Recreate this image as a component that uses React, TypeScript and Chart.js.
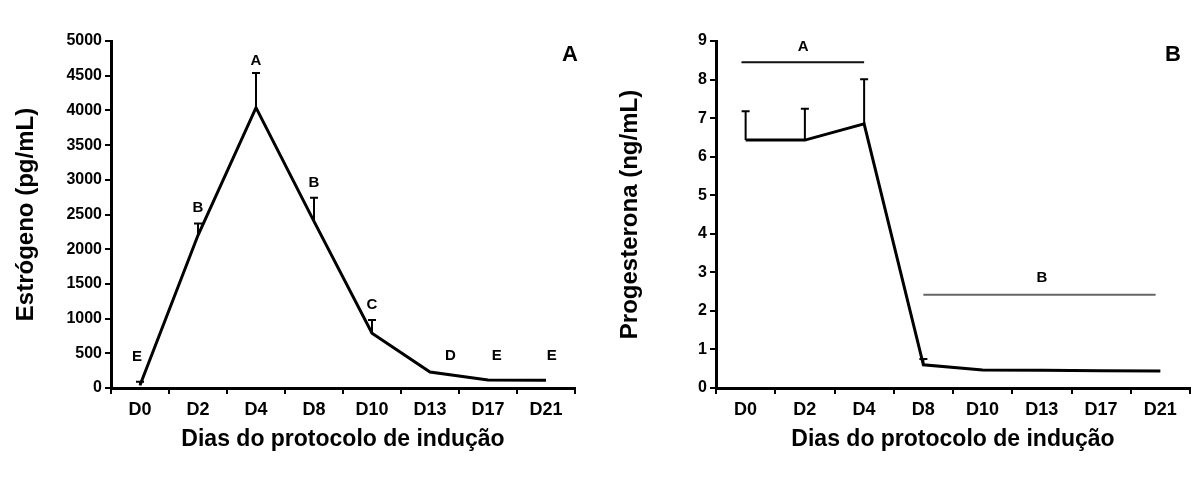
import React, { useEffect, useRef } from 'react';
import { Chart, registerables } from 'chart.js';

Chart.register(...registerables);

// ---------- data ----------
const days = ['D0', 'D2', 'D4', 'D8', 'D10', 'D13', 'D17', 'D21'];

const estrogenMean = [40, 2200, 4040, 2400, 790, 230, 115, 110];
const estrogenSem = [50, 170, 500, 340, 190, 0, 0, 0];
const estrogenLetters = ['E', 'B', 'A', 'B', 'C', 'D', 'E', 'E'];
const estrogenLetterLevel = [450, 2600, 4710, 2950, 1200, 460, 460, 460];
const estrogenLetterPos = [-0.05, 1, 2, 3, 4, 5.35, 6.15, 7.1];

const progesteroneMean = [6.43, 6.43, 6.85, 0.6, 0.47, 0.46, 0.45, 0.44];
const progesteroneSem = [0.75, 0.81, 1.16, 0.15, 0, 0, 0, 0];
const progGroupLabels = ['A', 'B'];
const progGroupStart = [-0.07, 3];
const progGroupEnd = [2, 6.92];
const progGroupLevel = [8.45, 2.42];
const progGroupColor = ['#111', '#666'];
const progGroupLabelLevel = [8.84, 2.85];
const progGroupLabelPos = [0.97, 5];

const FONT = '"Liberation Sans", Arial, Helvetica, sans-serif';

type Overlay = {
  mean: number[];
  sem: number[];
  letters?: string[];
  letterLevel?: number[];
  letterPos?: number[];
  groups?: {
    labels: string[];
    start: number[];
    end: number[];
    level: number[];
    color: string[];
    labelLevel: number[];
    labelPos: number[];
  };
  panel: string;
  panelX: number;
  panelY: number;
};

function overlayPlugin(o: Overlay) {
  return {
    id: 'overlay',
    afterDatasetsDraw(chart: any) {
      const ctx = chart.ctx as CanvasRenderingContext2D;
      const xs = chart.scales.x;
      const ys = chart.scales.y;
      ctx.save();
      // error bars
      ctx.strokeStyle = '#000';
      ctx.lineWidth = 2;
      o.mean.forEach((m, i) => {
        const e = o.sem[i];
        if (!e) return;
        const px = xs.getPixelForValue(i);
        const y0 = ys.getPixelForValue(m);
        const y1 = ys.getPixelForValue(m + e);
        ctx.beginPath();
        ctx.moveTo(px, y0);
        ctx.lineTo(px, y1);
        ctx.moveTo(px - 4, y1);
        ctx.lineTo(px + 4, y1);
        ctx.stroke();
      });
      ctx.fillStyle = '#000';
      ctx.textAlign = 'center';
      ctx.textBaseline = 'middle';
      ctx.font = `bold 15px ${FONT}`;
      if (o.letters && o.letterLevel && o.letterPos) {
        o.letters.forEach((t, i) => {
          ctx.fillText(t, xs.getPixelForValue(o.letterPos![i]), ys.getPixelForValue(o.letterLevel![i]));
        });
      }
      if (o.groups) {
        const g = o.groups;
        g.labels.forEach((t, i) => {
          const yy = ys.getPixelForValue(g.level[i]);
          ctx.strokeStyle = g.color[i];
          ctx.lineWidth = 2;
          ctx.beginPath();
          ctx.moveTo(xs.getPixelForValue(g.start[i]), yy);
          ctx.lineTo(xs.getPixelForValue(g.end[i]), yy);
          ctx.stroke();
          ctx.fillStyle = '#000';
          ctx.fillText(t, xs.getPixelForValue(g.labelPos[i]), ys.getPixelForValue(g.labelLevel[i]));
        });
      }
      ctx.font = `bold 22px ${FONT}`;
      ctx.fillText(o.panel, o.panelX, o.panelY);
      ctx.restore();
    },
  };
}

function makeConfig(
  data: number[],
  yTitle: string,
  yMax: number,
  yStep: number,
  yWidth: number,
  rightPad: number,
  yTitlePad: number,
  plugin: any
): any {
  return {
    type: 'line',
    data: {
      labels: days,
      datasets: [
        {
          data,
          borderColor: '#000',
          borderWidth: 3,
          pointRadius: 0,
          tension: 0,
          fill: false,
        },
      ],
    },
    options: {
      responsive: false,
      animation: false,
      events: [],
      layout: { padding: { top: 41, left: 0, right: rightPad, bottom: 0 } },
      plugins: { legend: { display: false }, tooltip: { enabled: false } },
      scales: {
        x: {
          type: 'category',
          offset: true,
          grid: {
            offset: true,
            drawOnChartArea: false,
            drawTicks: true,
            tickLength: 6,
            color: '#000',
            lineWidth: 2,
          },
          border: { display: true, color: '#000', width: 3 },
          ticks: {
            color: '#000',
            font: { family: FONT, size: 18, weight: 'bold' },
            padding: 5,
            maxRotation: 0,
            autoSkip: false,
          },
          title: {
            display: true,
            text: 'Dias do protocolo de indução',
            color: '#000',
            font: { family: FONT, size: 23, weight: 'bold' },
            padding: { top: 0, bottom: 28 },
          },
          afterFit: (s: any) => {
            s.height = 93;
          },
        },
        y: {
          min: 0,
          max: yMax,
          grid: {
            drawOnChartArea: false,
            drawTicks: true,
            tickLength: 6,
            color: '#000',
            lineWidth: 2,
          },
          border: { display: true, color: '#000', width: 3 },
          ticks: {
            stepSize: yStep,
            color: '#000',
            font: { family: FONT, size: 16, weight: 'bold' },
            padding: 3,
            callback: (v: any) => String(v),
          },
          title: {
            display: true,
            text: yTitle,
            color: '#000',
            font: { family: FONT, size: 24, weight: 'bold' },
            padding: { top: yTitlePad, bottom: 0 },
          },
          afterFit: (s: any) => {
            s.width = yWidth;
          },
        },
      },
    },
    plugins: [plugin],
  };
}

function ChartCanvas({ config, left }: { config: () => any; left: number }) {
  const ref = useRef<HTMLCanvasElement | null>(null);
  useEffect(() => {
    if (!ref.current) return;
    const chart = new Chart(ref.current, config());
    return () => chart.destroy();
  }, []);
  return (
    <canvas
      ref={ref}
      width={600}
      height={481}
      style={{ position: 'absolute', left, top: 0, width: 600, height: 481 }}
    />
  );
}

export default function App() {
  Chart.defaults.font.family = FONT;
  const leftConfig = () =>
    makeConfig(
      estrogenMean,
      'Estrógeno (pg/mL)',
      5000,
      500,
      111,
      25,
      12,
      overlayPlugin({
        mean: estrogenMean,
        sem: estrogenSem,
        letters: estrogenLetters,
        letterLevel: estrogenLetterLevel,
        letterPos: estrogenLetterPos,
        panel: 'A',
        panelX: 570,
        panelY: 55,
      })
    );
  const rightConfig = () =>
    makeConfig(
      progesteroneMean,
      'Progesterona (ng/mL)',
      9,
      1,
      116,
      10,
      16,
      overlayPlugin({
        mean: progesteroneMean,
        sem: progesteroneSem,
        groups: {
          labels: progGroupLabels,
          start: progGroupStart,
          end: progGroupEnd,
          level: progGroupLevel,
          color: progGroupColor,
          labelLevel: progGroupLabelLevel,
          labelPos: progGroupLabelPos,
        },
        panel: 'B',
        panelX: 573,
        panelY: 55,
      })
    );
  return (
    <div style={{ position: 'absolute', left: 0, top: 0, width: 1200, height: 481, background: '#fff' }}>
      <ChartCanvas config={leftConfig} left={0} />
      <ChartCanvas config={rightConfig} left={600} />
    </div>
  );
}
